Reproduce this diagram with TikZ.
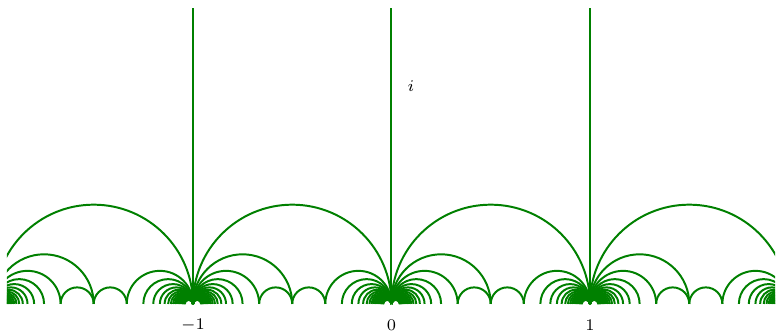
\documentclass[tikz,border=0pt]{standalone}
\begin{document}
\begin{tikzpicture}[x=3cm,y=3cm,
  geo/.style={draw=green!50!black,line width=0.85pt},
  lbl/.style={font=\fontsize{6.6}{8}\selectfont,inner sep=0pt}]
\useasboundingbox (-1.972,-0.136) rectangle (1.947,1.531);
\begin{scope}
\clip (-1.937,-0.136) rectangle (1.932,1.531);
\foreach \n in {-3,...,2}{
  \draw[geo] (\n,0) arc[start angle=180,end angle=0,radius=0.5];
  \foreach \k in {2,...,24}{
    \draw[geo] (\n,0) arc[start angle=180,end angle=0,radius={0.5/\k}];
  }
  \foreach \k in {3,...,24}{
    \draw[geo] ({\n+1-1/\k},0) arc[start angle=180,end angle=0,radius={0.5/\k}];
  }
  \draw[geo] ({\n+1/3},0) arc[start angle=180,end angle=0,radius={1/12}];
  \draw[geo] ({\n+1/2},0) arc[start angle=180,end angle=0,radius={1/12}];
}
\end{scope}
\foreach \n/\t in {-1/$-1$,0/$0$,1/$1$}{
  \coordinate (b\n) at (\n,0);
  \coordinate (t\n) at (\n,1.491);
  \draw[geo] (b\n) -- (t\n);
  \node[lbl] (l\n) at (\n,-0.106) {\t};
}
\node[lbl] (i) at (0.098,1.098) {$i$};
\end{tikzpicture}
\end{document}
